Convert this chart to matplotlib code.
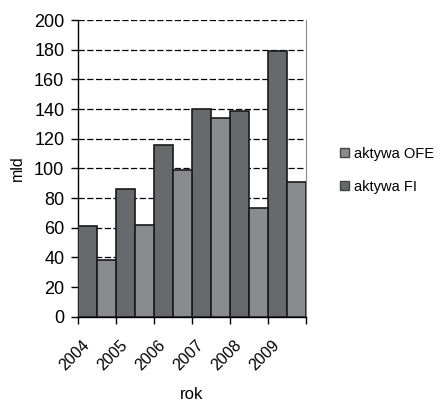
import matplotlib.pyplot as plt
import numpy as np
from matplotlib.patches import Patch
import matplotlib.transforms as mtransforms

plt.rcParams['font.family'] = ['Liberation Sans', 'DejaVu Sans']

years = ['2004', '2005', '2006', '2007', '2008', '2009']
aktywa_fi = [61, 86, 116, 140, 139, 179]
aktywa_ofe = [38, 62, 99, 134, 73, 91]

COL_FI = '#68696d'
COL_OFE = '#8a8b8f'

fig = plt.figure(figsize=(4.42, 4.01), dpi=100)
ax = fig.add_axes([0.177, 0.21, 0.515, 0.74])

x = np.arange(len(years))
w = 0.5
ax.bar(x - w / 2, aktywa_fi, width=w, color=COL_FI, edgecolor='#1a1a1a', linewidth=1.2, zorder=3)
ax.bar(x + w / 2, aktywa_ofe, width=w, color=COL_OFE, edgecolor='#1a1a1a', linewidth=1.2, zorder=3)

ax.set_xlim(-0.5, len(years) - 0.5)
ax.set_ylim(0, 200)
ax.set_yticks(np.arange(0, 201, 20))
ax.yaxis.grid(True, linestyle=(0, (5, 2)), color='black', linewidth=0.9, zorder=0)

# tick marks between categories, labels at the centres
ax.set_xticks(np.arange(-0.5, len(years)), minor=False)
ax.set_xticklabels([])
ax.set_xticks(x, minor=True)
ax.set_xticklabels(years, minor=True, rotation=45, ha='right', rotation_mode='anchor')
ax.tick_params(axis='x', which='minor', length=0, labelsize=11.5, pad=15)
ax.tick_params(axis='x', which='major', length=5, direction='out', width=1)
ax.tick_params(axis='y', length=5, direction='out', width=1, labelsize=13, pad=5)
offset = mtransforms.ScaledTranslation(-0.15, 0, fig.dpi_scale_trans)
for lbl in ax.xaxis.get_minorticklabels():
    lbl.set_transform(lbl.get_transform() + offset)

ax.spines['top'].set_visible(False)
ax.spines['right'].set_color('#888888')
ax.spines['left'].set_linewidth(1)
ax.spines['bottom'].set_linewidth(1)

ax.set_ylabel('mld', fontsize=11.5, va='center')
ax.yaxis.set_label_coords(-0.268, 0.5)
ax.set_xlabel('rok', fontsize=12, va='center')
ax.xaxis.set_label_coords(0.5, -0.263)

handles = [Patch(facecolor=COL_OFE, edgecolor='#444444', label='aktywa OFE'),
           Patch(facecolor=COL_FI, edgecolor='#444444', label='aktywa FI')]
fig.legend(handles=handles, loc='center left', bbox_to_anchor=(0.74, 0.575),
           frameon=False, fontsize=10.5, handlelength=0.6, handleheight=0.6,
           handletextpad=0.35, labelspacing=1.3)

fig.savefig('out.png', dpi=100)
